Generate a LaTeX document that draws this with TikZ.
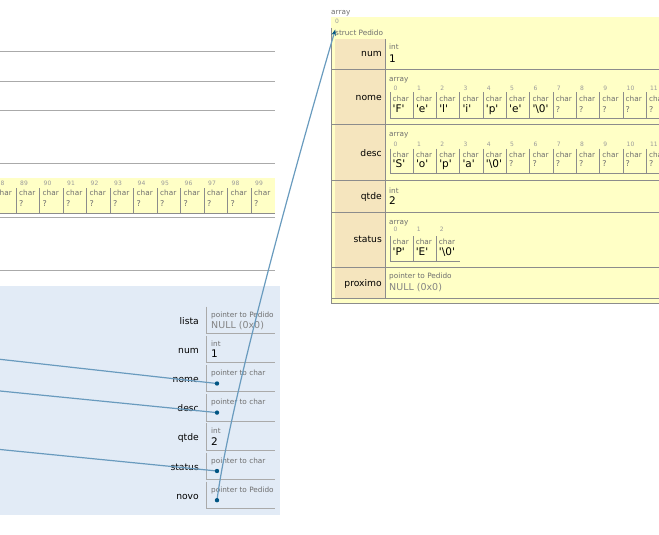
\documentclass[tikz,border=0pt]{standalone}
\usepackage{fontspec}
\setmainfont{DejaVu Sans}
\usetikzlibrary{arrows.meta,positioning,calc}
\definecolor{heapyellow}{RGB}{255,255,198}
\definecolor{fieldtan}{RGB}{245,229,190}
\definecolor{framebg}{RGB}{226,235,246}
\definecolor{rulegray}{RGB}{170,170,170}
\definecolor{cellgray}{RGB}{140,140,140}
\definecolor{typegray}{RGB}{110,110,110}
\definecolor{ptrblue}{RGB}{105,155,190}
\definecolor{dotblue}{RGB}{0,85,131}
\newcommand{\tyfont}{\fontsize{7.3}{8}\selectfont}
\newcommand{\ixfont}{\fontsize{6}{7}\selectfont}
\newcommand{\vlfont}{\fontsize{10.5}{12}\selectfont}
\newcommand{\nlfont}{\fontsize{9.5}{11}\selectfont}
\newcommand{\qmfont}{\fontsize{8}{9}\selectfont}
\newcommand{\nmfont}{\fontsize{9.2}{11}\selectfont}
\newcommand{\chv}[1]{\textquotesingle#1\textquotesingle}

\begin{document}
\begin{tikzpicture}[x=1pt,y=-1pt,>=Stealth,
    txt/.style={inner sep=0pt,anchor=west,text height=0.7em,text depth=0.2em},
    typelbl/.style={txt,font=\tyfont,text=typegray},
    idxlbl/.style={txt,font=\ixfont,text=typegray!70},
    val/.style={txt,font=\vlfont},
    nullval/.style={txt,font=\nlfont,text=typegray!85},
    undef/.style={txt,font=\qmfont,text=typegray},
    varname/.style={inner sep=0pt,anchor=east,font=\nmfont,text height=0.7em,text depth=0.2em},
    rowline/.style={cellgray,line width=0.9pt},
    ptr/.style={ptrblue,line width=1.2pt}]
  \useasboundingbox (0,0) rectangle (659,535);
  \clip (0,0) rectangle (659,535);

  % globals, cut off on the left
  \foreach \y in {51,81,110,163,217,270}
    \draw[rulegray,line width=0.9pt] (0,\y) -- (275,\y);
  \fill[heapyellow] (0,178) rectangle (274.5,213);
  \foreach \j in {88,...,99} {
    \pgfmathsetmacro{\cx}{16+23.5*(\j-89)}
    \draw[rowline] (\cx,188) -- (\cx,213);
    \node[idxlbl] (g-i\j) at (\cx+4,183) {\j};
    \node[typelbl] (g-t\j) at (\cx+3,193) {char};
    \node[undef] (g-v\j) at (\cx+3,203.5) {?};
  }
  \draw[rowline] (0,213) -- (274.5,213);

  % stack frame
  \fill[framebg] (0,286) rectangle (280,515);
  \foreach \v [count=\k from 0] in {lista,num,nome,desc,qtde,status,novo} {
    \pgfmathsetmacro{\ty}{306.5+29.2*\k}
    \draw[rulegray,line width=0.9pt] (206.5,\ty) -- (206.5,\ty+27) -- (275,\ty+27);
    \node[varname] (n-\v) at (199,\ty+15) {\v};
  }
  \node[typelbl] (t-lista) at (211,314.5) {pointer to Pedido};
  \node[nullval] (v-lista) at (211,326) {NULL (0x0)};
  \node[typelbl] (t-num) at (211,343.7) {int};
  \node[val] (v-num) at (211,355.2) {1};
  \node[typelbl] (t-nome) at (211,373) {pointer to char};
  \node[typelbl] (t-desc) at (211,402.1) {pointer to char};
  \node[typelbl] (t-qtde) at (211,431.3) {int};
  \node[val] (v-qtde) at (211,442.8) {2};
  \node[typelbl] (t-status) at (211,460.5) {pointer to char};
  \node[typelbl] (t-novo) at (211,489.7) {pointer to Pedido};
  \coordinate (d-nome) at (217,383.5);
  \coordinate (d-desc) at (217,412.6);
  \coordinate (d-status) at (217,471);
  \coordinate (d-novo) at (217,500.2);

  % heap: array of struct Pedido
  \node[typelbl] (h-arr) at (331,12) {array};
  \fill[heapyellow] (331,17) rectangle (659,303);
  \node[idxlbl] (h-idx) at (335,21.5) {0};
  \node[typelbl] (h-struct) at (335,33) {struct Pedido};
  \coordinate (h-tip) at (335.3,29.5);
  \fill[fieldtan] (335,39) rectangle (385,298);
  \foreach \y in {69,124,180,212,267,298}
    \draw[rowline] (332,\y) -- (659,\y);
  \draw[rowline] (385.5,39) -- (385.5,298);
  \draw[rowline] (331.5,28) -- (331.5,303) -- (659,303);
  \foreach \f/\y in {num/54,nome/98,desc/154,qtde/197,status/240,proximo/284}
    \node[varname] (f-\f) at (382,\y) {\f};

  \node[typelbl] (ft-num) at (389,47) {int};
  \node[val] (fv-num) at (389,60) {1};
  \node[typelbl] (ft-qtde) at (389,190.5) {int};
  \node[val] (fv-qtde) at (389,201.5) {2};
  \node[typelbl] (ft-proximo) at (389,276) {pointer to Pedido};
  \node[nullval] (fv-proximo) at (389,288.3) {NULL (0x0)};

  \foreach \r/\ry in {nome/69,desc/124,status/212}
    \node[typelbl] (a-\r) at (389,\ry+10) {array};
  % nome[]
  \foreach \chr [count=\i from 0] in {F,e,l,i,p,e,\textbackslash0} {
    \pgfmathsetmacro{\cx}{390+23.3*\i}
    \draw[rowline] (\cx,92.5) -- (\cx,118);
    \node[idxlbl] (nome-i\i) at (\cx+3.5,88) {\i};
    \node[typelbl] (nome-t\i) at (\cx+2.5,99.5) {char};
    \node[val] (nome-v\i) at (\cx+2.5,110.5) {\chv{\chr}};
  }
  \foreach \i in {7,...,11} {
    \pgfmathsetmacro{\cx}{390+23.3*\i}
    \draw[rowline] (\cx,92.5) -- (\cx,118);
    \node[idxlbl] (nome-i\i) at (\cx+3.5,88) {\i};
    \node[typelbl] (nome-t\i) at (\cx+2.5,99.5) {char};
    \node[undef] (nome-v\i) at (\cx+2.5,110) {?};
  }
  \draw[rowline] (390,118) -- (659,118);
  % desc[]
  \foreach \chr [count=\i from 0] in {S,o,p,a,\textbackslash0} {
    \pgfmathsetmacro{\cx}{390+23.3*\i}
    \draw[rowline] (\cx,148.5) -- (\cx,173);
    \node[idxlbl] (desc-i\i) at (\cx+3.5,144) {\i};
    \node[typelbl] (desc-t\i) at (\cx+2.5,154.5) {char};
    \node[val] (desc-v\i) at (\cx+2.5,164.5) {\chv{\chr}};
  }
  \foreach \i in {5,...,11} {
    \pgfmathsetmacro{\cx}{390+23.3*\i}
    \draw[rowline] (\cx,148.5) -- (\cx,173);
    \node[idxlbl] (desc-i\i) at (\cx+3.5,144) {\i};
    \node[typelbl] (desc-t\i) at (\cx+2.5,154.5) {char};
    \node[undef] (desc-v\i) at (\cx+2.5,164) {?};
  }
  \draw[rowline] (390,173) -- (659,173);
  % status[]
  \foreach \chr [count=\i from 0] in {P,E,\textbackslash0} {
    \pgfmathsetmacro{\cx}{390+23.1*\i}
    \draw[rowline] (\cx,236) -- (\cx,261);
    \node[idxlbl] (status-i\i) at (\cx+3.5,228.5) {\i};
    \node[typelbl] (status-t\i) at (\cx+2.5,241.5) {char};
    \node[val] (status-v\i) at (\cx+2.5,252.5) {\chv{\chr}};
  }
  \draw[rowline] (390,261) -- (459.5,261);

  % pointers
  \coordinate (nome-end) at (-10,358.2);
  \coordinate (desc-end) at (-10,390);
  \coordinate (status-end) at (-10,448.5);
  \draw[ptr] (d-nome) -- (nome-end);
  \draw[ptr] (d-desc) -- (desc-end);
  \draw[ptr] (d-status) -- (status-end);
  \draw[ptr,-{Stealth[length=6pt,width=4.5pt,color=dotblue]}] (d-novo) .. controls (230,400) and (300,150) .. (h-tip);
  \foreach \p in {nome,desc,status,novo}
    \fill[dotblue] (d-\p) circle (2.2);
\end{tikzpicture}
\end{document}
